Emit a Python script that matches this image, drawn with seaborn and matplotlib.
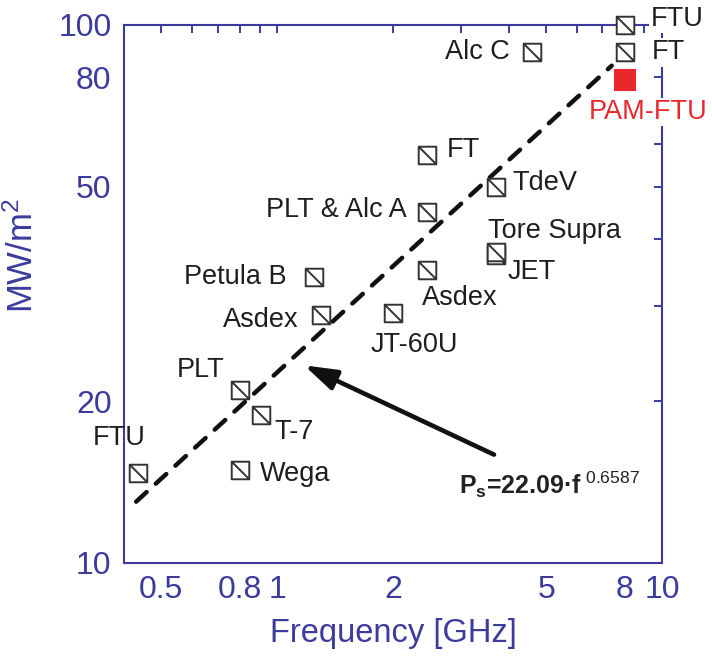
import numpy as np
import pandas as pd
import matplotlib
matplotlib.use('Agg')
import matplotlib.pyplot as plt
import seaborn as sns
from matplotlib.path import Path
from matplotlib.ticker import NullLocator

# data
devices = ['FTU', 'PLT', 'T-7', 'Wega', 'Petula B', 'Asdex', 'PLT & Alc A', 'FT',
           'Asdex', 'JT-60U', 'TdeV', 'Tore Supra', 'JET', 'Alc C', 'FT', 'FTU']
freq = [0.435, 0.80, 0.91, 0.80, 1.25, 1.30, 2.45, 2.45, 2.45, 2.0, 3.7, 3.7, 3.7, 4.6, 8.0, 8.0]
power = [14.7, 21.0, 18.8, 14.9, 34.0, 28.9, 44.9, 57.3, 35.0, 29.1, 50.0, 37.4, 37.9, 89.0, 89.0, 100.0]

pam_name = 'PAM-FTU'
pam_freq = [8.0]
pam_power = [79.0]

# fitted power law, endpoints of the dashed line
fit_freq = [0.43, 7.4]
fit_power = [13.0, 84.0]
fit_text = 'P$_\\mathbf{s}$=22.09·f$^{\\ 0.6587}$'

xticks = [0.5, 0.6, 0.7, 0.8, 0.9, 1, 2, 3, 4, 5, 6, 7, 8, 9, 10]
xticklabels = ['0.5', '', '', '0.8', '', '1', '2', '', '', '5', '', '', '8', '', '10']
yticks = [10, 20, 30, 40, 50, 60, 70, 80, 90, 100]
yticklabels = ['10', '20', '', '', '50', '', '', '80', '', '100']

# label offsets (pixels) and alignment for each device
label_layout = [(-19, 35, 'center'), (-15, 20, 'right'), (13, -17, 'left'), (20, -4, 'left'),
                (-28, 0, 'right'), (-22, -5, 'right'), (-20, 2, 'right'), (20, 5, 'left'),
                (-5, -28, 'left'), (-22, -32, 'left'), (17, 4, 'left'), (-8, 24, 'left'),
                (12, -20, 'left'), (-22, 0, 'right'), (27, 0, 'left'), (26, 6, 'left')]

blue = '#3b3b9e'
red = '#e8282c'
ink = '#1e1e1e'

sns.set_style('white')
plt.rcParams['font.family'] = ['Liberation Sans', 'DejaVu Sans']
plt.rcParams['mathtext.fontset'] = 'custom'
plt.rcParams['mathtext.rm'] = 'Liberation Sans'
plt.rcParams['mathtext.it'] = 'Liberation Sans:italic'
plt.rcParams['mathtext.bf'] = 'Liberation Sans:bold'

fig = plt.figure(figsize=(7.12, 6.57), dpi=100)
ax = fig.add_axes([0.1742, 0.1431, 0.7556, 0.8189])
ax.set_xscale('log')
ax.set_yscale('log')

# dashed fit line
sns.lineplot(x=fit_freq, y=fit_power, ax=ax, color='#111111', lw=3.2, zorder=3)
ln = ax.lines[-1]
ln.set_dashes((3.2, 2.8))
ln.set_dash_capstyle('round')

# square with a diagonal
box = Path([(-1, -1), (1, -1), (1, 1), (-1, 1), (-1, -1), (-1, 1), (1, -1)],
           [Path.MOVETO, Path.LINETO, Path.LINETO, Path.LINETO, Path.CLOSEPOLY,
            Path.MOVETO, Path.LINETO])

df = pd.DataFrame({'device': devices, 'freq': freq, 'power': power})
sns.scatterplot(data=df, x='freq', y='power', marker=box, s=160, color='white',
                edgecolor='#333333', linewidth=1.4, ax=ax, zorder=5, clip_on=False)
sns.scatterplot(x=pam_freq, y=pam_power, marker='s', s=230, color=red,
                linewidth=0, ax=ax, zorder=5, clip_on=False)

for (name, f, p), (dx, dy, ha) in zip(zip(devices, freq, power), label_layout):
    kw = {}
    if f > 7:
        kw['bbox'] = dict(fc='white', ec='none', pad=1)
    ax.annotate(name, (f, p), xytext=(dx, dy), textcoords='offset pixels',
                ha=ha, va='center', fontsize=19.5, color=ink, zorder=6,
                annotation_clip=False, **kw)
ax.annotate(pam_name, (pam_freq[0], pam_power[0]), xytext=(23, -32),
            textcoords='offset pixels', ha='center', va='center', fontsize=19.5,
            color=red, zorder=6, annotation_clip=False,
            bbox=dict(fc='white', ec='none', pad=1))

# arrow to the fit line and its equation
ax.annotate('', xy=(1.175, 23.3), xytext=(3.66, 15.9),
            arrowprops=dict(arrowstyle='-|>,head_length=1.4,head_width=0.45',
                            color='#111111', lw=3.3, mutation_scale=14,
                            shrinkA=0, shrinkB=0))
ax.text(2.97, 13.96, fit_text, fontsize=18, fontweight='bold', color='#222222',
        va='center', ha='left')

ax.set_xlim(0.4, 10)
ax.set_ylim(10, 100)
ax.set_xticks(xticks)
ax.set_xticklabels(xticklabels)
ax.set_yticks(yticks)
ax.set_yticklabels(yticklabels)
ax.xaxis.set_minor_locator(NullLocator())
ax.yaxis.set_minor_locator(NullLocator())
ax.tick_params(which='both', direction='in', length=6, width=1.4, color=blue,
               labelcolor=blue, labelsize=23, top=True, right=True, pad=9)
for sp in ax.spines.values():
    sp.set_color(blue)
    sp.set_linewidth(1.5)

ax.set_xlabel('Frequency [GHz]', fontsize=23.5, color=blue)
ax.set_ylabel('MW/m$^2$', fontsize=25, color=blue)
ax.xaxis.set_label_coords(0.5, -0.103)
ax.yaxis.set_label_coords(-0.157, 0.571)

fig.savefig('out.png', dpi=100)
